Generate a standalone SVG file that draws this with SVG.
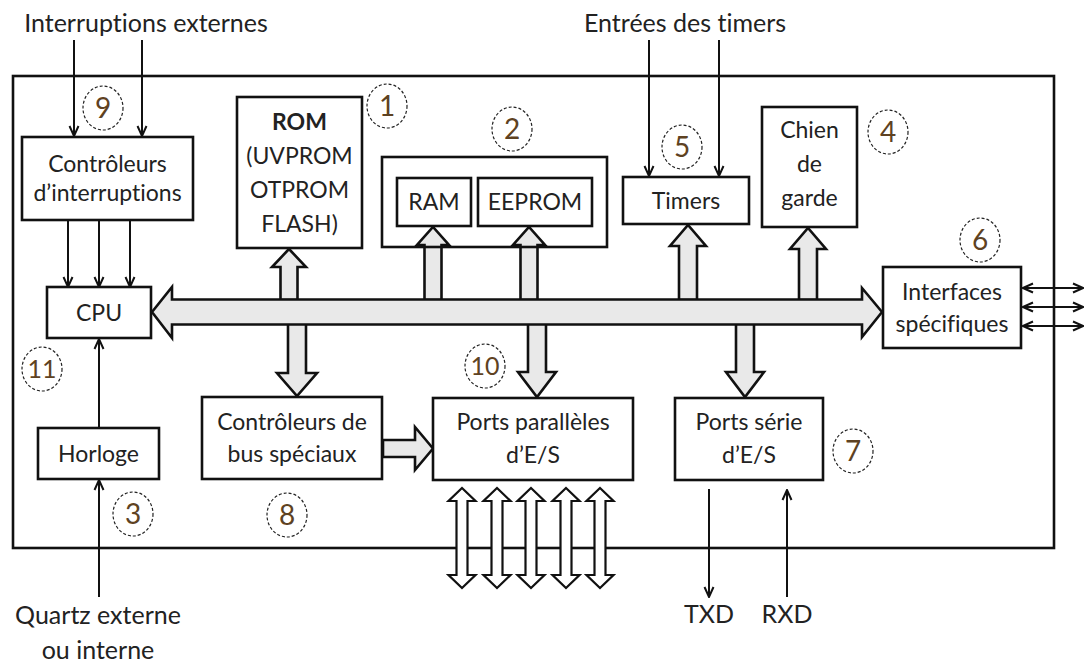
<svg xmlns="http://www.w3.org/2000/svg" width="1086" height="666" viewBox="0 0 1086 666">
<style>
.box{fill:#fff;stroke:#111;stroke-width:2.6}
.t{font-family:Lato,"Open Sans","Liberation Sans",sans-serif;font-size:23px;fill:#222;text-anchor:middle;font-variant-ligatures:none}
.to{font-family:Lato,"Open Sans","Liberation Sans",sans-serif;font-size:25px;fill:#222;text-anchor:middle;font-variant-ligatures:none}
.ln{fill:none;stroke:#111;stroke-width:2}
.bus{fill:#e9e9e9;stroke:#111;stroke-width:2.6;stroke-linejoin:miter}
.dbl{fill:#fff;stroke:#111;stroke-width:2.2}
.c{fill:none;stroke:#222;stroke-width:1.2;stroke-dasharray:3 2}
.n{font-family:Lato,"Open Sans","Liberation Sans",sans-serif;font-size:28px;fill:#5e4222;text-anchor:middle}
.n2{font-family:Lato,"Open Sans","Liberation Sans",sans-serif;font-size:25px;fill:#5e4222;text-anchor:middle}
</style>
<defs>
<marker id="ah" viewBox="0 0 12 12" refX="11" refY="6" markerWidth="12" markerHeight="12" markerUnits="userSpaceOnUse" orient="auto-start-reverse">
<path d="M1,1.5 L11,6 L1,10.5" fill="none" stroke="#111" stroke-width="2"/>
</marker>
</defs>
<rect width="1086" height="666" fill="#fff"/>

<g id="frame">
<rect x="13" y="76" width="1041" height="472" fill="none" stroke="#111" stroke-width="2.6"/>
</g>

<g id="labels-outside">
<text class="to" x="146" y="32">Interruptions externes</text>
<text class="to" x="685" y="32">Entrées des timers</text>
<text class="to" x="98" y="624">Quartz externe</text>
<text class="to" x="98" y="659">ou interne</text>
<text class="to" x="709" y="623">TXD</text>
<text class="to" x="787" y="623">RXD</text>
</g>

<g id="connectors">
<line class="ln" x1="74" y1="40" x2="74" y2="136" marker-end="url(#ah)"/>
<line class="ln" x1="142" y1="40" x2="142" y2="136" marker-end="url(#ah)"/>
<line class="ln" x1="68" y1="221" x2="68" y2="287" marker-end="url(#ah)"/>
<line class="ln" x1="99" y1="221" x2="99" y2="287" marker-end="url(#ah)"/>
<line class="ln" x1="130" y1="221" x2="130" y2="287" marker-end="url(#ah)"/>
<line class="ln" x1="99" y1="428" x2="99" y2="339" marker-end="url(#ah)"/>
<line class="ln" x1="99" y1="597" x2="99" y2="480" marker-end="url(#ah)"/>
<line class="ln" x1="649" y1="40" x2="649" y2="176" marker-end="url(#ah)"/>
<line class="ln" x1="719" y1="40" x2="719" y2="176" marker-end="url(#ah)"/>
<line class="ln" x1="709" y1="489" x2="709" y2="597" marker-end="url(#ah)"/>
<line class="ln" x1="787" y1="597" x2="787" y2="490" marker-end="url(#ah)"/>
<line class="ln" x1="1023" y1="288" x2="1083" y2="288" marker-start="url(#ah)" marker-end="url(#ah)"/>
<line class="ln" x1="1023" y1="307" x2="1083" y2="307" marker-start="url(#ah)" marker-end="url(#ah)"/>
<line class="ln" x1="1023" y1="326" x2="1083" y2="326" marker-start="url(#ah)" marker-end="url(#ah)"/>

<path class="bus" d="M280.5,300 V267 H272 L289,249 L306,267 H297.5 V300 Z"/>
<path class="bus" d="M424.5,300 V245 H417 L433,227 L449,245 H441.5 V300 Z"/>
<path class="bus" d="M520.5,300 V245 H513 L529,227 L545,245 H537.5 V300 Z"/>
<path class="bus" d="M679,300 V246 H670 L688,225 L706,246 H697 V300 Z"/>
<path class="bus" d="M799,300 V249 H790 L808,228 L826,249 H817 V300 Z"/>
<path class="bus" d="M288,323 V373 H277 L297,396 L317,373 H306 V323 Z"/>
<path class="bus" d="M528,323 V372 H518 L537,397 L556,372 H546 V323 Z"/>
<path class="bus" d="M736,323 V372 H726 L745,397 L764,372 H754 V323 Z"/>
<path class="bus" d="M152,312 L172,287 V299.5 H862 V288 L882,312 L862,337 V324.5 H172 V338 Z"/>
<path class="bus" d="M383,440 H415 V427 L433,448.5 L415,470 V457 H383 Z"/>
<path class="dbl" d="M462,488 L475.5,501 H467.5 V575 H475.5 L462,588 L448.5,575 H456.5 V501 H448.5 Z"/>
<path class="dbl" d="M497,488 L510.5,501 H502.5 V575 H510.5 L497,588 L483.5,575 H491.5 V501 H483.5 Z"/>
<path class="dbl" d="M531,488 L544.5,501 H536.5 V575 H544.5 L531,588 L517.5,575 H525.5 V501 H517.5 Z"/>
<path class="dbl" d="M566,488 L579.5,501 H571.5 V575 H579.5 L566,588 L552.5,575 H560.5 V501 H552.5 Z"/>
<path class="dbl" d="M600,488 L613.5,501 H605.5 V575 H613.5 L600,588 L586.5,575 H594.5 V501 H586.5 Z"/>
</g>

<g id="int-ctrl">
<rect class="box" x="22" y="137" width="171" height="83"/>
<text class="t" x="107.5" y="172">Contrôleurs</text>
<text class="t" x="107.5" y="201">d’interruptions</text>
</g>
<g id="rom">
<rect class="box" x="237" y="97" width="125" height="151"/>
<text class="t" x="299.5" y="130" font-weight="bold">ROM</text>
<text class="t" x="299.5" y="164">(UVPROM</text>
<text class="t" x="299.5" y="198">OTPROM</text>
<text class="t" x="299.5" y="232">FLASH)</text>
</g>
<g id="memory">
<rect class="box" x="382" y="157" width="225" height="90" style="fill:none"/>
</g>
<g id="ram">
<rect class="box" x="397" y="178" width="74" height="48"/>
<text class="t" x="434" y="210">RAM</text>
</g>
<g id="eeprom">
<rect class="box" x="478" y="178" width="114" height="48"/>
<text class="t" x="535" y="210">EEPROM</text>
</g>
<g id="timers">
<rect class="box" x="623" y="177" width="126" height="47"/>
<text class="t" x="686" y="209">Timers</text>
</g>
<g id="watchdog">
<rect class="box" x="762" y="107" width="95" height="120"/>
<text class="t" x="809.5" y="138">Chien</text>
<text class="t" x="809.5" y="172">de</text>
<text class="t" x="809.5" y="206">garde</text>
</g>
<g id="interfaces">
<rect class="box" x="883" y="267" width="138" height="81"/>
<text class="t" x="952" y="300">Interfaces</text>
<text class="t" x="952" y="332">spécifiques</text>
</g>
<g id="cpu">
<rect class="box" x="47" y="287" width="104" height="51"/>
<text class="t" x="99" y="321">CPU</text>
</g>
<g id="horloge">
<rect class="box" x="38" y="428" width="121" height="51"/>
<text class="t" x="98.5" y="462">Horloge</text>
</g>
<g id="bus-ctrl">
<rect class="box" x="202" y="397" width="180" height="82"/>
<text class="t" x="292" y="430">Contrôleurs de</text>
<text class="t" x="292" y="462">bus spéciaux</text>
</g>
<g id="par-ports">
<rect class="box" x="433" y="398" width="200" height="82"/>
<text class="t" x="533" y="430">Ports parallèles</text>
<text class="t" x="533" y="463">d’E/S</text>
</g>
<g id="ser-ports">
<rect class="box" x="675" y="398" width="148" height="82"/>
<text class="t" x="749" y="430">Ports série</text>
<text class="t" x="749" y="463">d’E/S</text>
</g>

<g id="numbers">
<ellipse class="c" cx="387" cy="106" rx="20" ry="22"/><text class="n" x="387" y="116">1</text>
<ellipse class="c" cx="512" cy="129" rx="20" ry="22"/><text class="n" x="512" y="139">2</text>
<ellipse class="c" cx="133" cy="514" rx="20" ry="22"/><text class="n" x="133" y="524">3</text>
<ellipse class="c" cx="888" cy="132" rx="20" ry="22"/><text class="n" x="888" y="142">4</text>
<ellipse class="c" cx="682" cy="147" rx="20" ry="22"/><text class="n" x="682" y="157">5</text>
<ellipse class="c" cx="980" cy="240" rx="20" ry="22"/><text class="n" x="980" y="250">6</text>
<ellipse class="c" cx="853" cy="451" rx="20" ry="22"/><text class="n" x="853" y="461">7</text>
<ellipse class="c" cx="287" cy="515" rx="20" ry="22"/><text class="n" x="287" y="525">8</text>
<ellipse class="c" cx="103" cy="108" rx="20" ry="22"/><text class="n" x="103" y="118">9</text>
<ellipse class="c" cx="485" cy="366" rx="20" ry="22"/><text class="n2" x="485" y="375">10</text>
<ellipse class="c" cx="42" cy="369" rx="20" ry="22"/><text class="n2" x="42" y="378">11</text>
</g>
</svg>
